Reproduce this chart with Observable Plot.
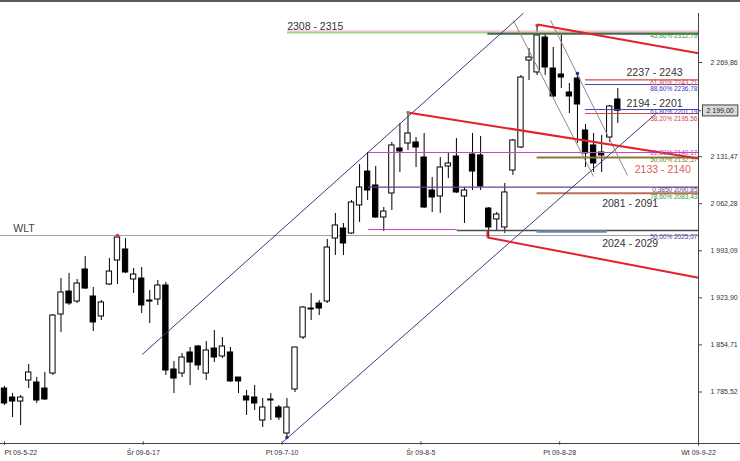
<!DOCTYPE html>
<html><head><meta charset="utf-8">
<script src="https://cdn.jsdelivr.net/npm/d3@7"></script>
<script src="https://cdn.jsdelivr.net/npm/@observablehq/plot@0.6"></script>
<style>
body{margin:0;background:#fff;}
#wrap{position:relative;width:740px;height:461px;overflow:hidden;background:#fff}
#topbar{position:absolute;left:0;top:0;width:740px;height:2px;background:#5a5a5a}
</style></head><body><div id="wrap"><div id="topbar"></div></div>
<script>
// ---- data ----
const xTickPos = [0, 17.2, 34.4, 51.6, 68.8, 86];
const xTickLabels = ["Pt 09-5-22", "Śr 09-6-17", "Pt 09-7-10", "Śr 09-8-5", "Pt 09-8-28", "Wt 09-9-22"];
const yTicks = [2269.86, 2131.47, 2062.28, 1993.09, 1923.90, 1854.71, 1785.52];
const lastClose = 2199.00;

const opens = [1790.6,1777.4,1771.5,1802.4,1799.5,1790.6,1812.7,1899.4,1933.2,1918.5,1965.6,1925.9,1896.5,1943.5,1978.8,1995.0,1950.9,1952.3,1920.0,1921.5,1942.1,1818.6,1812.7,1843.6,1852.4,1812.7,1849.4,1837.7,1843.6,1806.8,1778.9,1777.4,1743.6,1773.0,1762.7,1724.5,1789.2,1865.6,1906.8,1915.6,1918.5,2011.1,2025.8,2018.5,2059.7,2109.6,2089.1,2042.0,2077.3,2143.4,2150.8,2152.3,2130.2,2081.7,2072.9,2117.0,2131.7,2072.9,2134.6,2133.2,2055.2,2039.1,2027.3,2111.1,2144.9,2272.8,2255.2,2306.6,2261.0,2252.2,2225.8,2246.3,2169.9,2147.9,2137.6,2159.6,2215.5];
const highs = [1793.6,1783.3,1780.4,1825.9,1806.8,1814.2,1899.4,1952.3,1959.7,1950.9,1984.7,1939.1,1920.0,1981.7,2015.5,2011.1,1967.0,1968.5,1934.7,1949.4,1946.5,1830.3,1842.1,1850.9,1853.9,1859.7,1875.9,1865.6,1850.9,1806.8,1787.7,1795.1,1775.9,1783.3,1765.7,1775.9,1850.9,1911.2,1930.3,1920.0,2009.7,2047.9,2033.2,2067.0,2119.9,2137.6,2117.0,2056.7,2152.3,2180.2,2196.4,2159.6,2165.5,2100.8,2130.2,2137.6,2158.1,2086.1,2165.5,2161.1,2056.7,2049.4,2092.0,2156.7,2250.8,2290.4,2324.3,2312.5,2291.9,2309.6,2239.0,2253.7,2178.7,2165.5,2162.6,2206.7,2231.6];
const lows = [1765.7,1748.0,1736.3,1790.6,1768.6,1773.0,1809.8,1873.0,1912.7,1915.6,1936.2,1874.4,1890.6,1942.1,1943.5,1959.7,1930.3,1900.9,1886.2,1912.7,1809.8,1783.3,1806.8,1795.1,1817.1,1802.4,1828.9,1834.7,1799.5,1783.3,1751.0,1758.3,1733.3,1743.6,1743.6,1718.6,1784.8,1862.7,1890.6,1897.9,1915.6,1986.2,1986.2,2017.0,2034.7,2067.0,2040.5,2021.4,2052.3,2108.2,2140.5,2115.5,2055.2,2049.4,2047.9,2099.3,2077.3,2033.2,2081.7,2081.7,2012.6,2022.9,2018.5,2103.8,2143.4,2243.4,2250.8,2250.8,2218.4,2231.6,2194.9,2150.8,2115.5,2108.2,2108.2,2152.3,2180.2];
const closes = [1768.6,1771.5,1777.4,1814.2,1773.0,1774.5,1897.9,1931.8,1915.6,1945.0,1937.6,1887.7,1917.1,1962.6,2012.6,1961.2,1958.2,1912.7,1918.5,1942.1,1817.1,1805.3,1836.2,1828.9,1824.5,1846.5,1836.2,1852.4,1801.0,1801.0,1773.0,1768.6,1762.7,1774.5,1748.0,1762.7,1850.9,1909.7,1908.2,1908.2,1997.9,2030.3,2003.8,2064.1,2086.1,2081.7,2042.0,2050.8,2147.9,2139.0,2165.5,2144.9,2056.7,2071.4,2115.5,2121.4,2078.8,2081.7,2109.6,2087.6,2027.3,2046.4,2078.8,2155.2,2247.8,2277.2,2309.6,2262.5,2219.9,2247.8,2219.9,2208.1,2136.1,2121.4,2133.2,2205.2,2199.0];

// horizontal support / resistance levels
const levelVals   = [2316.0, 2313.5, 2312.0, 2244.4, 2237.5, 2200.8, 2194.9, 2137.6, 2130.2, 2086.6, 2077.8, 2024.4, 2022.9, 2021.5];
const levelStart  = [35.07, 35.07, 59.9, 72.0, 72.0, 72.0, 72.0, 45.1, 66.0, 45.1, 66.0, 45.1, 56.1, 66.0];
const levelEnd    = [86, 86, 86, 86, 86, 86, 86, 86, 86, 86, 86, 56.1, 86, 74.7];
const levelColor  = ["#e3a3a3", "#9ad888", "#5a5a5a", "#d24a4a", "#4646c2", "#4646c2", "#d24a4a", "#c846c8", "#8a7a30", "#6a3f8c", "#b8705a", "#c846c8", "#4a4a4a", "#6a88aa"];
const levelWidth  = [1, 1.5, 2, 1.2, 1.2, 1.2, 1.2, 1.2, 1.8, 1.3, 2, 1.2, 1.4, 2.5];

const wltValue = 2015.5;

const zoneLabels = ["2308 - 2315", "2237 - 2243", "2194 - 2201", "2133 - 2140", "2081 - 2091", "2024 - 2029", "WLT"];
const zoneLabelX = [35.03, 77.08, 77.08, 78.1, 74.06, 74.06, 1.08];
const zoneLabelY = [2322.8, 2255.5, 2209.6, 2112.8, 2062.1, 2003.4, 2025.4];
const zoneLabelColor = ["#333", "#333", "#333", "#e05a5a", "#333", "#333", "#444"];

const fibLabels = ["45,86% 2312,79", "61,80% 2243,21", "88,60% 2236,78", "61,80% 2201,19", "38,20% 2195,56", "61,80% 2140,17", "50,00% 2132,57", "0,3850 2090,85", "78,60% 2083,43", "50,00% 2025,07"];
const fibY = [2308.5, 2240.3, 2230.6, 2196.6, 2186.8, 2136.4, 2127.2, 2083.2, 2072.8, 2014.1];
const fibColor = ["#2f9a2f", "#d04848", "#3838b8", "#3838b8", "#d04848", "#c040c0", "#7a7a20", "#6a3a8a", "#2f9a2f", "#4a3a9a"];

// trend channel (navy), falling channel (gray), resistance lines (red)
const channelX1 = [17.06, 34.4], channelY1 = [1840.6, 1711.0];
const channelX2 = [64.31, 80.9], channelY2 = [2342.3, 2196.4];
const grayX1 = [63.07, 67.66], grayY1 = [2331.6, 2332.0];
const grayX2 = [72.99, 77.2],  grayY2 = [2102.3, 2103.8];
const redX1 = [49.94, 66.05, 59.85, 59.85], redY1 = [2196.4, 2325.7, 2012.6, 2023.0];
const redX2 = [86, 86, 86, 59.85],          redY2 = [2128.7, 2283.5, 1953.5, 2012.6];

const markerX = [14, 50, 66, 71, 35];
const markerY = [2015.5, 2196.4, 2324.3, 2253.7, 1718.6];
const markerColor = ["#e03030", "#7a9a30", "#e03030", "#2a2a8a", "#2a2a8a"];

// ---- build ----
const candles = opens.map((o, i) => ({i, open: o, high: highs[i], low: lows[i], close: closes[i], up: closes[i] >= o}));
const segs = (x1, y1, x2, y2) => x1.map((x, k) => ({x1: x, y1: y1[k], x2: x2[k], y2: y2[k]}));
const yMin = 1709.8, yMax = 2361;
const fmt = d => d.toFixed(2).replace(".", ",").replace(/^(\d)(\d{3})/, "$1 $2");
const FONT = "Liberation Sans, Arial, sans-serif";

const marks = [];
marks.push(Plot.ruleY([wltValue], {x1: -0.5, x2: 86, stroke: "#a0a0a0", strokeWidth: 1}));
marks.push(Plot.ruleX(candles, {x: "i", y1: "low", y2: "high", stroke: "#000", strokeWidth: 1}));
marks.push(Plot.rect(candles, {x1: d => d.i - 0.33, x2: d => d.i + 0.33, y1: "open", y2: "close", fill: d => d.up ? "#fff" : "#000", stroke: "#000", strokeWidth: 1}));
levelVals.forEach((v, k) => marks.push(Plot.ruleY([v], {x1: levelStart[k], x2: levelEnd[k], stroke: levelColor[k], strokeWidth: levelWidth[k]})));
marks.push(Plot.link(segs(channelX1, channelY1, channelX2, channelY2), {x1: "x1", y1: "y1", x2: "x2", y2: "y2", stroke: "#3a3a8a", strokeWidth: 1}));
marks.push(Plot.link(segs(grayX1, grayY1, grayX2, grayY2), {x1: "x1", y1: "y1", x2: "x2", y2: "y2", stroke: "#8a8a8a", strokeWidth: 1}));
marks.push(Plot.link(segs(redX1, redY1, redX2, redY2), {x1: "x1", y1: "y1", x2: "x2", y2: "y2", stroke: "#e3202c", strokeWidth: 2}));
marks.push(Plot.dot(markerX, {x: d => d, y: (d, i) => markerY[i], fill: (d, i) => markerColor[i], r: 1.8, stroke: null}));
marks.push(Plot.text(zoneLabels, {x: (d, i) => zoneLabelX[i], y: (d, i) => zoneLabelY[i], text: d => d, fill: (d, i) => zoneLabelColor[i], textAnchor: "start", fontSize: 10.5, fontFamily: FONT}));
marks.push(Plot.text(fibLabels, {x: () => 86, y: (d, i) => fibY[i], text: d => d, fill: (d, i) => fibColor[i], textAnchor: "end", dx: -1, fontSize: 6.5, fontFamily: FONT}));
// axes
marks.push(Plot.ruleY([yMin], {x1: -0.5, x2: 91.3, stroke: "#444", strokeWidth: 1}));
marks.push(Plot.ruleX([86], {y1: yMin - 4, y2: 2342, stroke: "#444", strokeWidth: 1}));
marks.push(Plot.ruleY(yTicks, {y: d => d, x1: 86, x2: 86.5, stroke: "#444", strokeWidth: 1}));
marks.push(Plot.text(yTicks, {x: () => 86, y: d => d, text: fmt, dx: 12, textAnchor: "start", fontSize: 7, fontFamily: FONT, fill: "#333"}));
marks.push(Plot.ruleX(xTickPos, {x: d => d, y1: yMin - 2.5, y2: yMin + 2.5, stroke: "#444", strokeWidth: 1}));
marks.push(Plot.text(xTickLabels.slice(0, 1), {x: () => xTickPos[0], y: () => yMin, text: d => d, dy: 9, textAnchor: "start", fontSize: 7, fontFamily: FONT, fill: "#333"}));
marks.push(Plot.text(xTickLabels.slice(1), {x: (d, i) => xTickPos[i + 1], y: () => yMin, text: d => d, dy: 9, textAnchor: "middle", fontSize: 7, fontFamily: FONT, fill: "#333"}));
// last price marker + label
marks.push(Plot.ruleY([lastClose], {x1: 86, x2: 86.4, stroke: "#444", strokeWidth: 1}));
marks.push(Plot.text([lastClose], {x: () => 86, y: d => d, text: fmt, dx: 8, textAnchor: "start", fontSize: 7, fontFamily: FONT, fill: "#222"}));

const chart = Plot.plot({
  width: 740, height: 461,
  marginLeft: 4, marginRight: 42, marginTop: 0, marginBottom: 18,
  x: {type: "linear", domain: [0, 86], axis: null},
  y: {type: "linear", domain: [yMin, yMax], axis: null},
  color: {type: "identity"},
  style: {fontFamily: FONT, background: "transparent"},
  marks
});
document.getElementById("wrap").append(chart);

// box behind the last-price label (same transform as the text)
const t = [...chart.querySelectorAll("text")].find(e => e.textContent === fmt(lastClose));
if (t) {
  const bb = t.getBBox();
  const ns = "http://www.w3.org/2000/svg";
  const r = document.createElementNS(ns, "rect");
  r.setAttribute("x", bb.x - 4); r.setAttribute("y", bb.y - 2);
  r.setAttribute("width", bb.width + 8); r.setAttribute("height", bb.height + 4);
  r.setAttribute("fill", "#d9d9d9"); r.setAttribute("stroke", "#444");
  const tr = t.getAttribute("transform");
  if (tr) r.setAttribute("transform", tr);
  t.parentNode.insertBefore(r, t);
}
</script></body></html>
